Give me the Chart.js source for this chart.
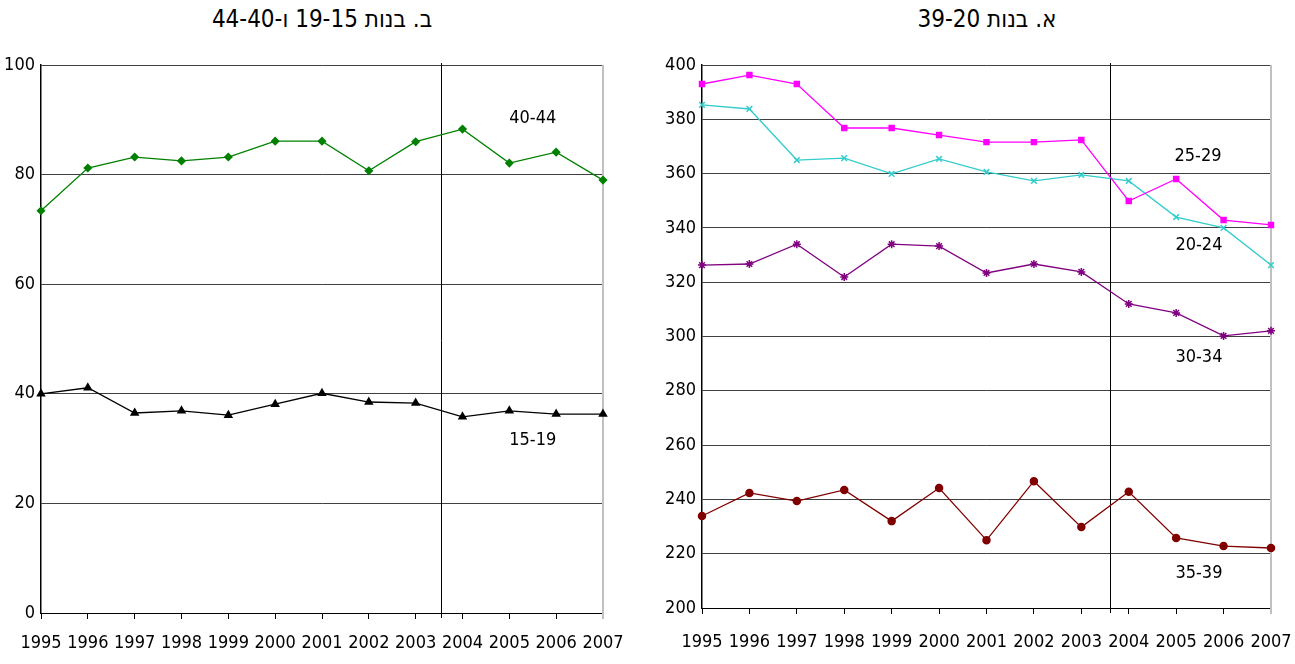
<!DOCTYPE html>
<html>
<head>
<meta charset="utf-8">
<script src="https://cdn.jsdelivr.net/npm/chart.js@4"></script>
<style>
  body { margin: 0; background: #fff; width: 1295px; height: 664px; overflow: hidden; position: relative; }
  .title { position: absolute; top: 5px; font-family: 'Liberation Sans Narrow', 'DejaVu Sans Condensed', sans-serif; font-size: 24px; color: #000; text-align: center; }
  canvas { position: absolute; top: 0; }
</style>
</head>
<body>
<div class="title" dir="rtl" style="left:22px; width:600px;">ב. בנות 19-15 ו-44-40</div>
<div class="title" dir="rtl" style="left:687px; width:600px;">א. בנות 39-20</div>
<canvas id="young" width="640" height="664" style="left:0"></canvas>
<canvas id="main" width="655" height="664" style="left:640px"></canvas>
<script>
document.addEventListener("DOMContentLoaded", function () {
  const years = ['1995', '1996', '1997', '1998', '1999', '2000', '2001', '2002', '2003', '2004', '2005', '2006', '2007'];

  // chart B: ages 15-19 and 40-44
  const age15_19 = [40.0, 41.1, 36.5, 36.9, 36.1, 38.1, 40.1, 38.5, 38.3, 35.8, 36.9, 36.3, 36.3];
  const age40_44 = [73.4, 81.2, 83.2, 82.5, 83.2, 86.1, 86.1, 80.7, 86.0, 88.3, 82.1, 84.1, 79.0];

  // chart A: ages 20-39
  const age20_24 = [385.3, 383.8, 365.0, 365.7, 359.9, 365.4, 360.6, 357.3, 359.5, 357.3, 344.0, 340.0, 326.3];
  const age25_29 = [393.0, 396.3, 393.0, 376.8, 376.8, 374.2, 371.6, 371.6, 372.4, 349.9, 358.0, 342.9, 341.1];
  const age30_34 = [326.3, 326.7, 334.0, 321.9, 334.0, 333.3, 323.4, 326.7, 323.8, 312.0, 308.7, 300.2, 302.1];
  const age35_39 = [233.9, 242.4, 239.4, 243.5, 232.0, 244.2, 225.0, 246.7, 229.8, 242.8, 225.8, 222.8, 222.1];

  const FONT = "'Liberation Sans Narrow', 'DejaVu Sans Condensed', sans-serif";

  // draws the 2003/2004 divider, the right frame edge and the series names
  const overlay = {
    id: 'overlay',
    beforeDatasetsDraw(chart, args, opts) {
      const { ctx, chartArea, scales } = chart;
      ctx.save();
      ctx.strokeStyle = '#c0c0c0';
      ctx.lineWidth = 2;
      ctx.beginPath();
      ctx.moveTo(chartArea.right, chartArea.top);
      ctx.lineTo(chartArea.right, chartArea.bottom + 6);
      ctx.stroke();
      const dx = Math.round(scales.x.getPixelForValue(opts.divider)) + 0.5;
      ctx.strokeStyle = '#000';
      ctx.lineWidth = 1;
      ctx.beginPath();
      ctx.moveTo(dx, chartArea.top - 2);
      ctx.lineTo(dx, chartArea.bottom + 5);
      ctx.stroke();
      ctx.restore();
    },
    afterDatasetsDraw(chart, args, opts) {
      const { ctx, scales } = chart;
      ctx.save();
      ctx.font = '18px ' + FONT;
      ctx.fillStyle = '#000';
      ctx.textAlign = 'center';
      ctx.textBaseline = 'middle';
      opts.labels.forEach(function (l) {
        ctx.fillText(l.text, scales.x.getPixelForValue(l.at), scales.y.getPixelForValue(l.value));
      });
      ctx.restore();
    }
  };

  function makeOptions(yMin, yMax, axisWidth, axisHeight, padRight, labelGap, divider, labels) {
    return {
      responsive: false,
      animation: false,
      layout: { padding: { top: 65, right: padRight, left: 0, bottom: 0 } },
      plugins: {
        legend: { display: false },
        tooltip: { enabled: false },
        overlay: { divider: divider, labels: labels }
      },
      scales: {
        x: {
          offset: false,
          grid: { drawOnChartArea: false, drawTicks: true, tickLength: 6, color: '#000' },
          border: { color: '#000', width: 1 },
          ticks: { color: '#000', font: { family: FONT, size: 18 }, padding: labelGap, maxRotation: 0, autoSkip: false },
          afterFit: function (s) { s.height = axisHeight; s.paddingLeft = 0; s.paddingRight = 0; }
        },
        y: {
          min: yMin,
          max: yMax,
          grid: { color: '#404040', lineWidth: 1, drawTicks: false },
          border: { color: '#000', width: 1.5 },
          ticks: { stepSize: 20, color: '#000', font: { family: FONT, size: 18 }, padding: 6 },
          afterFit: function (s) { s.width = axisWidth; }
        }
      }
    };
  }

  function series(label, data, color, shape, radius) {
    return {
      label: label,
      data: data,
      borderColor: color,
      backgroundColor: color,
      borderWidth: 1.3,
      pointStyle: shape,
      pointRadius: radius,
      pointBorderWidth: 1.5,
      tension: 0,
      clip: false
    };
  }

  const youngCanvas = document.getElementById('young');
  const mainCanvas = document.getElementById('main');

  if (youngCanvas && window.Chart) {
    new Chart(youngCanvas.getContext('2d'), {
      type: 'line',
      data: {
        labels: years,
        datasets: [
          series('40-44', age40_44, '#008000', 'rectRot', 3.5),
          series('15-19', age15_19, '#000000', 'triangle', 4)
        ]
      },
      options: makeOptions(0, 100, 41, 51, 37, 14, 8.55, [
        { text: '40-44', at: 10.5, value: 90.3 },
        { text: '15-19', at: 10.5, value: 31.6 }
      ]),
      plugins: [overlay]
    });
  }

  if (mainCanvas && window.Chart) {
    new Chart(mainCanvas.getContext('2d'), {
      type: 'line',
      data: {
        labels: years,
        datasets: [
          series('25-29', age25_29, '#ff00ff', 'rect', 3.5),
          series('20-24', age20_24, '#33cccc', 'crossRot', 4),
          series('30-34', age30_34, '#800080', 'star', 4),
          series('35-39', age35_39, '#800000', 'circle', 3.5)
        ]
      },
      options: makeOptions(200, 400, 62, 56, 24, 18, 8.6, [
        { text: '25-29', at: 10.46, value: 366.5 },
        { text: '20-24', at: 10.48, value: 333.7 },
        { text: '30-34', at: 10.48, value: 292.4 },
        { text: '35-39', at: 10.48, value: 212.9 }
      ]),
      plugins: [overlay]
    });
  }
});
</script>
</body>
</html>
